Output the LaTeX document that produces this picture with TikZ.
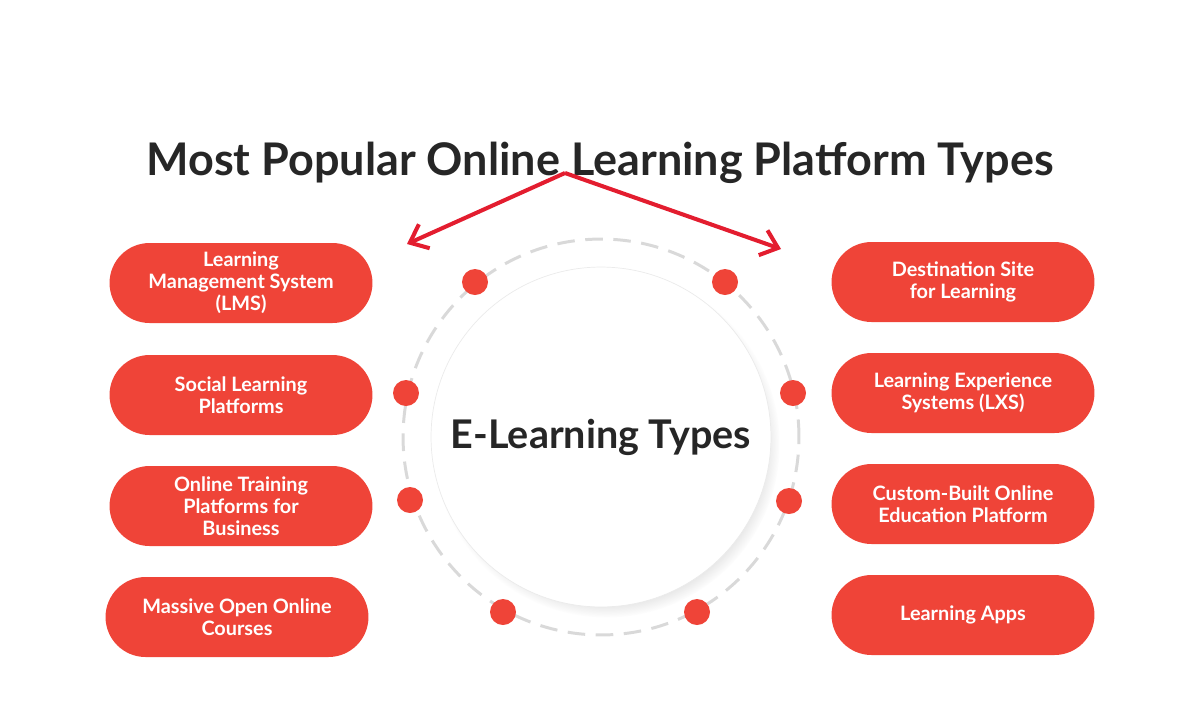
\documentclass[tikz,border=0pt]{standalone}
\usepackage{fontspec}
\setmainfont{Lato}
\usepackage{tikz}
\usetikzlibrary{arrows.meta,positioning,shapes.misc,shadows}
\definecolor{pillred}{HTML}{EF4438}
\definecolor{arrowred}{HTML}{E31D2F}
\definecolor{ringgray}{HTML}{D9D9D9}
\definecolor{titlegray}{HTML}{262626}
\tikzset{
  typenode/.style={rounded rectangle,fill=pillred,text=white,minimum width=5.4cm,minimum height=1.6cm,inner sep=2pt,align=center,font=\bfseries\fontsize{11.3}{12.5}\selectfont},
  dotnode/.style={circle,fill=pillred,minimum size=0.52cm,inner sep=0pt},
  hubnode/.style={circle,fill=white,draw=black!8,minimum size=6.8cm,text=titlegray,font=\bfseries\fontsize{22.5}{26}\selectfont,
    circular drop shadow={shadow scale=1.02,shadow xshift=3pt,shadow yshift=-4pt,opacity=0.35}},
  ringline/.style={ringgray,line width=1.7pt,dash pattern=on 10pt off 6pt},
  bigarrow/.style={-{Straight Barb[length=9pt,width=15pt]},line width=2.3pt,arrowred},
}

\begin{document}
\begin{tikzpicture}[x=0.02cm,y=-0.02cm]
  \useasboundingbox (0,0) rectangle (1200,718);
  % title and arrow
  \node[anchor=base,text=titlegray,font=\bfseries\fontsize{25.6}{30}\selectfont] (title) at (600,175) {Most Popular Online Learning Platform Types};
  \coordinate (apex) at (565,173);
  \coordinate (tipL) at (407,244);
  \coordinate (tipR) at (781,249);
  \draw[bigarrow] (apex) -- (tipL);
  \draw[bigarrow] (apex) -- (tipR);
  % centre
  \node[hubnode] (hub) at (601,437) {E-Learning Types};
  \draw[ringline] (hub.center) circle[radius=3.96cm];
  \node[dotnode] (d1) at (475,282) {};
  \node[dotnode] (d2) at (725,282) {};
  \node[dotnode] (d3) at (406,393) {};
  \node[dotnode] (d4) at (793,393) {};
  \node[dotnode] (d5) at (410,500) {};
  \node[dotnode] (d6) at (789,501) {};
  \node[dotnode] (d7) at (503,612) {};
  \node[dotnode] (d8) at (697,612) {};
  % left column
  \node[typenode] (nLMS) at (241,283) {Learning\\Management System\\(LMS)};
  \node[typenode] (nSocial) at (241,395) {Social Learning\\Platforms};
  \node[typenode] (nBiz) at (241,506) {Online Training\\Platforms for\\Business};
  \node[typenode] (nMOOC) at (237,617) {Massive Open Online\\Courses};
  % right column
  \node[typenode] (nDest) at (963,282) {Destination Site\\for Learning};
  \node[typenode] (nLXS) at (963,393) {Learning Experience\\Systems (LXS)};
  \node[typenode] (nCustom) at (963,504) {Custom-Built Online\\Education Platform};
  \node[typenode] (nApps) at (963,615) {Learning Apps};
\end{tikzpicture}
\end{document}
